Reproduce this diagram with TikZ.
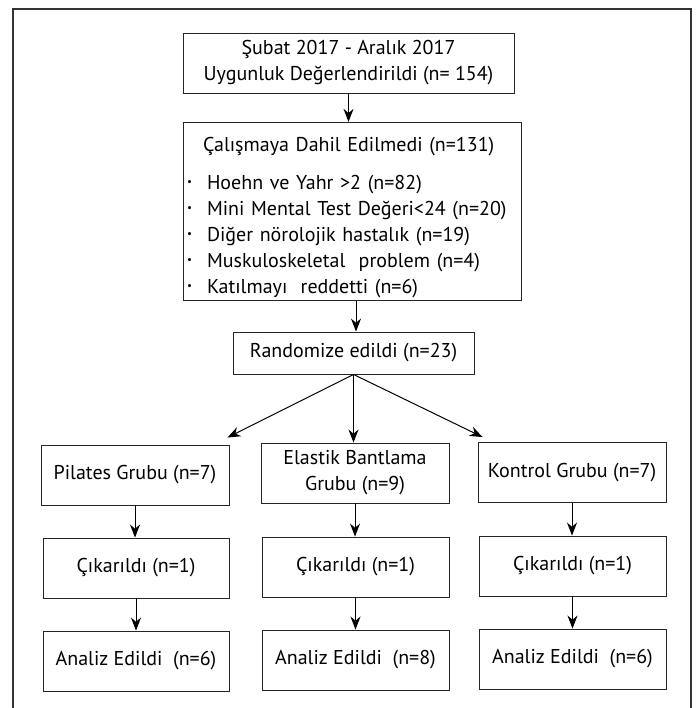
\documentclass[tikz,border=0pt]{standalone}
\usepackage{fontspec}
\setmainfont{PT Sans}
\usetikzlibrary{arrows.meta,positioning}

\newcommand{\blt}{\makebox[20pt][l]{\raisebox{3.5pt}{\fontsize{11}{11}\selectfont\textbullet}}}

\tikzset{
  box/.style={draw=black!85, line width=0.9pt, minimum width=188pt,
    minimum height=60pt, inner sep=3pt, align=center},
  arr/.style={draw=black, line width=1pt, -{Stealth[length=13pt,width=10pt]}},
  frame/.style={draw=black!80, line width=1.4pt}
}

\begin{document}
\begin{tikzpicture}[x=1pt, y=-1pt,
    every node/.style={font=\fontsize{20}{26}\selectfont}]
  \useasboundingbox (0,0) rectangle (696,708);
  \draw[frame] (13,712) -- (13,9) -- (691,9) -- (691,712);

  % screening and exclusions
  \node[box, minimum width=331pt] (screen) at (348.5,63)
    {Şubat 2017 - Aralık 2017\\Uygunluk Değerlendirildi (n= 154)};
  \node[box, minimum width=338pt, minimum height=173pt, text width=330pt,
    align=left, inner xsep=4pt] (excl) at (352,211.5)
    {\rule{0pt}{26pt}\hspace*{16pt}Çalışmaya Dahil Edilmedi (n=131)\\[12pt]
     \blt Hoehn ve Yahr >2 (n=82)\\
     \blt Mini Mental Test Değeri<24 (n=20)\\
     \blt Diğer nörolojik hastalık (n=19)\\
     \blt Muskuloskeletal~\ problem (n=4)\\
     \blt Katılmayı~\ reddetti (n=6)};
  \node[box, minimum width=241pt, minimum height=42pt] (rand) at (353.5,353)
    {Randomize edildi (n=23)};

  % groups
  \node[box] (pil) at (135,475) {Pilates Grubu (n=7)};
  \node[box] (ela) at (355,473) {Elastik Bantlama\\Grubu (n=9)};
  \node[box] (kon) at (572,472.5) {Kontrol Grubu (n=7)};

  \node[box, minimum width=186pt] (cik1) at (136,568) {Çıkarıldı (n=1)};
  \node[box, minimum width=187pt] (cik2) at (355.5,567) {Çıkarıldı (n=1)};
  \node[box, minimum width=187pt] (cik3) at (572.5,566) {Çıkarıldı (n=1)};

  \node[box, minimum width=186pt] (an1) at (136,661) {Analiz Edildi~\ (n=6)};
  \node[box, minimum width=187pt] (an2) at (355.5,660) {Analiz Edildi~\ (n=8)};
  \node[box, minimum width=187pt] (an3) at (572.5,659) {Analiz Edildi~\ (n=6)};

  % connectors
  \draw[arr] (screen) -- (screen |- excl.north);
  \draw[arr] ([xshift=4pt]excl.south) -- ([xshift=4pt]excl.south |- rand.north);
  \draw[arr] (rand.south) -- ([shift={(-2,-7)}]pil.north east);
  \draw[arr] (rand.south) -- (rand.south |- ela.north);
  \draw[arr] (rand.south) -- ([shift={(5,-5)}]kon.north west);
  \draw[arr] (pil) -- (pil |- cik1.north);
  \draw[arr] (ela) -- (ela |- cik2.north);
  \draw[arr] (kon) -- (kon |- cik3.north);
  \draw[arr] (cik1) -- (cik1 |- an1.north);
  \draw[arr] (cik2) -- (cik2 |- an2.north);
  \draw[arr] (cik3) -- (cik3 |- an3.north);
\end{tikzpicture}
\end{document}
